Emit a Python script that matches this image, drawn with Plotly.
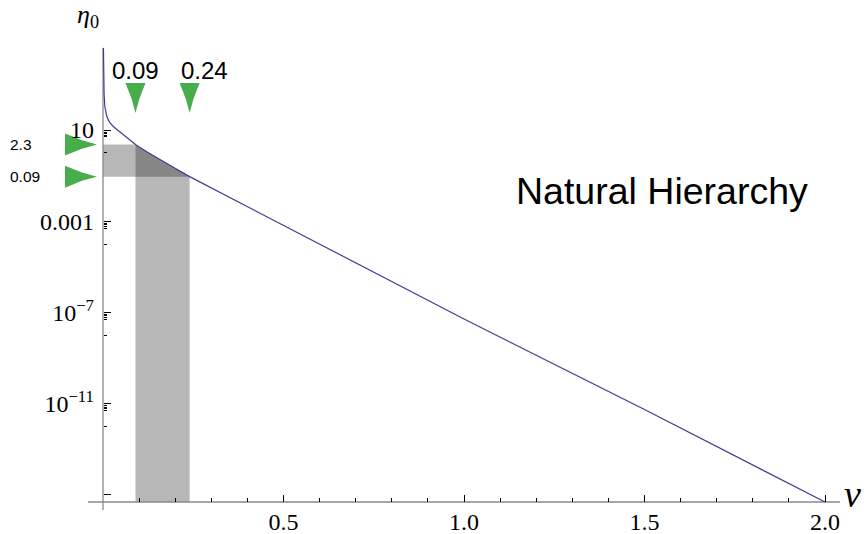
import numpy as np
import plotly.graph_objects as go

# ---------------- data ----------------
nu = [0.0012, 0.002, 0.003, 0.005, 0.0075, 0.01, 0.015, 0.02, 0.03, 0.04, 0.05,
      0.07, 0.09, 0.12, 0.15, 0.19, 0.24, 0.3, 0.5, 1.0, 1.5, 2.0]
eta = [4e4, 2000, 400, 110, 60, 42, 27, 20, 13.5, 10, 7.6,
       4.0, 2.3, 1.14, 0.59, 0.255, 0.09, 0.029, 6.8e-4, 5.1e-8, 5.5e-12, 4.8e-16]

nu_marks = [0.09, 0.24]
nu_mark_labels = ["0.09", "0.24"]
eta_marks = [2.3, 0.09]
eta_mark_labels = ["2.3", "0.09"]

x_tickvals = [0.5, 1.0, 1.5, 2.0]
x_ticktext = ["0.5", "1.0", "1.5", "2.0"]
y_tickvals = [10, 1e-3, 1e-7, 1e-11, 1e-15]
y_ticktext = ["10", "0.001", "10<sup>−7</sup>", "10<sup>−11</sup>", ""]

title_text = "Natural Hierarchy"

# ---------------- layout geometry ----------------
W, H = 868, 534
X0_PX, PX_PER_NU = 103.0, 361.0       # pixel of nu=0, pixels per unit nu
Y10_PX, PX_PER_DEC = 130.0, 22.8      # pixel of eta=10, pixels per decade
XR = [(0 - X0_PX) / PX_PER_NU, (W - X0_PX) / PX_PER_NU]
YR = [1 - (H - Y10_PX) / PX_PER_DEC, 1 + Y10_PX / PX_PER_DEC]  # log10 range


def px2x(px):
    return XR[0] + px / W * (XR[1] - XR[0])


def py2y(py):
    return 10 ** (YR[1] - py / H * (YR[1] - YR[0]))


def dx(dpx):
    return dpx * (XR[1] - XR[0]) / W


def yfac(dpy):
    return 10 ** (dpy * (YR[1] - YR[0]) / H)


AXIS_Y = py2y(502)           # where the horizontal axis crosses
GREEN = "#48ad4b"
GREY = "rgba(30,30,30,0.32)"
CURVE = "#3d3d99"
AXIS_COL = "#8a8a8a"
SERIF = "Liberation Serif"
SANS = "Liberation Sans"

nu_arr = np.array(nu)
eta_arr = np.array(eta)
i0 = int(np.argmin(np.abs(nu_arr - nu_marks[0])))
i1 = int(np.argmin(np.abs(nu_arr - nu_marks[1])))
seg_x = list(nu_arr[i0:i1 + 1])
seg_y = list(eta_arr[i0:i1 + 1])

fig = go.Figure()

# vertical band: nu in [0.09, 0.24], from axis up to the curve
fig.add_trace(go.Scatter(
    x=[nu_marks[0]] + seg_x + [nu_marks[1], nu_marks[0]],
    y=[AXIS_Y] + seg_y + [AXIS_Y, AXIS_Y],
    mode="lines", line=dict(width=0), fill="toself", fillcolor=GREY,
    hoverinfo="skip"))

# horizontal band: eta in [0.09, 2.3], from nu=0 to the curve
fig.add_trace(go.Scatter(
    x=[0, 0] + seg_x + [0],
    y=[eta_marks[1], eta_marks[0]] + seg_y + [eta_marks[1]],
    mode="lines", line=dict(width=0), fill="toself", fillcolor=GREY,
    hoverinfo="skip"))

# axis lines
fig.add_trace(go.Scatter(x=[0, 0], y=[py2y(510), py2y(48)], mode="lines",
                         line=dict(color=AXIS_COL, width=1.3), hoverinfo="skip"))
fig.add_trace(go.Scatter(x=[px2x(88), px2x(840)], y=[AXIS_Y, AXIS_Y], mode="lines",
                         line=dict(color=AXIS_COL, width=1.3), hoverinfo="skip"))

# curve
fig.add_trace(go.Scatter(x=nu, y=eta, mode="lines",
                         line=dict(color=CURVE, width=1.2), hoverinfo="skip"))

# green arrow heads on top (pointing down at nu marks)
w = dx(10)
for v in nu_marks:
    base, mid, tip = py2y(83), py2y(99), py2y(113)
    fig.add_trace(go.Scatter(
        x=[v - w, v - 0.38 * w, v, v + 0.38 * w, v + w, v - w],
        y=[base, mid, tip, mid, base, base],
        mode="lines", line=dict(width=0), fill="toself", fillcolor=GREEN,
        hoverinfo="skip"))

# green arrow heads on the left (pointing right at eta marks)
for e in eta_marks:
    xb, xm, xt = px2x(65), px2x(82), px2x(97)
    f, fm = yfac(11), yfac(11 * 0.38)
    fig.add_trace(go.Scatter(
        x=[xb, xm, xt, xm, xb, xb],
        y=[e * f, e * fm, e, e / fm, e / f, e * f],
        mode="lines", line=dict(width=0), fill="toself", fillcolor=GREEN,
        hoverinfo="skip"))

annotations = []
# top labels
top_offsets_px = [0, 15]
for v, lab, off in zip(nu_marks, nu_mark_labels, top_offsets_px):
    annotations.append(dict(x=v + dx(off), y=1 - 70.5 / H, xref="x", yref="paper",
                            text=lab, showarrow=False, xanchor="center", yanchor="middle",
                            font=dict(family=SANS, size=24, color="black")))
# left labels
for e, lab in zip(eta_marks, eta_mark_labels):
    annotations.append(dict(x=7.5 / W, y=np.log10(e), xref="paper", yref="y",
                            text=lab, showarrow=False, xanchor="left", yanchor="middle",
                            font=dict(family=SANS, size=15.5, color="black")))
# axis labels
annotations.append(dict(x=87.5 / W, y=1 - 16 / H, xref="paper", yref="paper",
                        text="<i>η</i><sub>0</sub>", showarrow=False,
                        xanchor="center", yanchor="middle",
                        font=dict(family=SERIF, size=26, color="black")))
annotations.append(dict(x=852.5 / W, y=1 - 494 / H, xref="paper", yref="paper",
                        text="<i>ν</i>", showarrow=False,
                        xanchor="center", yanchor="middle",
                        font=dict(family=SERIF, size=38, color="black")))
# title text
annotations.append(dict(x=514 / W, y=1 - 191 / H, xref="paper", yref="paper",
                        text=title_text, showarrow=False,
                        xanchor="left", yanchor="middle",
                        font=dict(family=SANS, size=37.5, color="black")))

x_minor = [round(0.1 * i, 1) for i in range(1, 20) if i % 5]
y_minor = []
for m in y_tickvals[:-1]:
    y_minor += [m * f for f in (0.8, 0.7, 0.6, 0.5)] + [m * 0.1]

fig.update_layout(
    width=W, height=H,
    margin=dict(l=0, r=0, t=0, b=0),
    paper_bgcolor="white", plot_bgcolor="white",
    showlegend=False,
    annotations=annotations,
    xaxis=dict(range=XR, anchor="free", position=(H - 502) / H,
               showline=False, showgrid=False, zeroline=False,
               ticks="inside", tickvals=x_tickvals, ticktext=x_ticktext,
               ticklen=7, tickwidth=1, tickcolor="black",
               minor=dict(tickvals=x_minor, ticks="inside", ticklen=4,
                          tickwidth=1, tickcolor="black"),
               tickfont=dict(family=SERIF, size=24, color="black"),
               ticklabelstandoff=3,
               automargin=False, fixedrange=True),
    yaxis=dict(type="log", range=YR, anchor="free", position=X0_PX / W,
               showline=False, showgrid=False, zeroline=False,
               ticks="inside", tickvals=y_tickvals, ticktext=y_ticktext,
               ticklen=7, tickwidth=1, tickcolor="black",
               minor=dict(tickvals=y_minor, ticks="inside", ticklen=3,
                          tickwidth=1, tickcolor="black"),
               tickfont=dict(family=SERIF, size=24, color="black"),
               ticklabelstandoff=9,
               automargin=False, fixedrange=True),
)

fig.write_html("out.html")
